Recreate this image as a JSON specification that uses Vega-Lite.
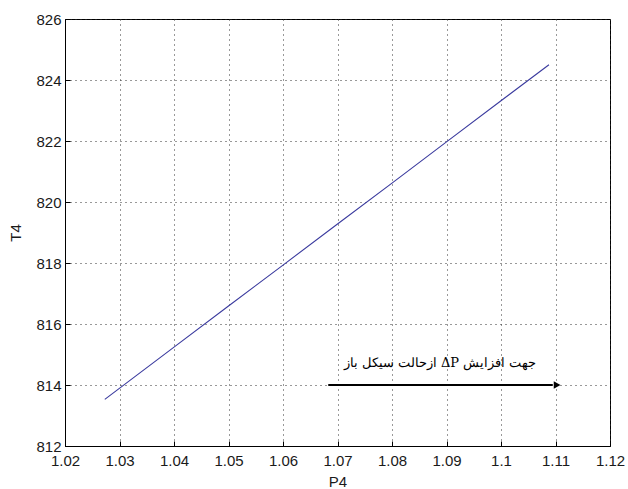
{
  "$schema": "https://vega.github.io/schema/vega-lite/v6.json",
  "width": 545,
  "height": 427,
  "autosize": {"type": "none"},
  "padding": {"left": 65, "top": 19, "right": 18, "bottom": 43},
  "background": "white",
  "config": {
    "view": {"stroke": "#000000", "strokeWidth": 1},
    "axis": {
      "labelFont": "Liberation Sans",
      "labelFontSize": 15,
      "labelColor": "#1a1a1a",
      "titleFont": "Liberation Sans",
      "titleFontSize": 15,
      "titleFontWeight": "normal",
      "titleColor": "#1a1a1a",
      "domainColor": "#000000",
      "tickColor": "#000000",
      "gridColor": "#333333",
      "gridDash": [1, 4],
      "gridOpacity": 1,
      "gridWidth": 1
    }
  },
  "datasets": {
    "curve": [
      {"P4": 1.0273, "T4": 813.53},
      {"P4": 1.04, "T4": 815.24},
      {"P4": 1.05, "T4": 816.59},
      {"P4": 1.06, "T4": 817.93},
      {"P4": 1.07, "T4": 819.28},
      {"P4": 1.08, "T4": 820.62},
      {"P4": 1.09, "T4": 821.97},
      {"P4": 1.1, "T4": 823.32},
      {"P4": 1.1088, "T4": 824.5}
    ],
    "arrow": [
      {"x1": 1.0683, "x2": 1.1095, "y": 814}
    ],
    "head": [
      {"x": 1.1103, "y": 814}
    ],
    "note": [
      {"x": 1.0888, "y": 814.72, "label": "\u202bجهت افزایش ΔP ازحالت سیکل باز\u202c"}
    ]
  },
  "layer": [
    {
      "data": {"name": "curve"},
      "mark": {"type": "line", "color": "#3a3a9e", "strokeWidth": 1.1},
      "encoding": {
        "x": {
          "field": "P4", "type": "quantitative",
          "scale": {"domain": [1.02, 1.12], "nice": false, "zero": false},
          "axis": {
            "title": "P4",
            "values": [1.02, 1.03, 1.04, 1.05, 1.06, 1.07, 1.08, 1.09, 1.1, 1.11, 1.12],
            "format": ".3~r",
            "grid": true,
            "tickSize": -5,
            "labelPadding": 12,
            "titlePadding": 6,
            "labelFlush": false
          }
        },
        "y": {
          "field": "T4", "type": "quantitative",
          "scale": {"domain": [812, 826], "nice": false, "zero": false},
          "axis": {
            "title": "T4",
            "values": [812, 814, 816, 818, 820, 822, 824, 826],
            "format": "d",
            "grid": true,
            "tickSize": -5,
            "labelPadding": 9,
            "titlePadding": 12,
            "labelFlush": false
          }
        }
      }
    },
    {
      "data": {"name": "arrow"},
      "mark": {"type": "rule", "color": "#000000", "strokeWidth": 2},
      "encoding": {
        "x": {"field": "x1", "type": "quantitative"},
        "x2": {"field": "x2"},
        "y": {"field": "y", "type": "quantitative"}
      }
    },
    {
      "data": {"name": "head"},
      "mark": {"type": "point", "shape": "triangle-right", "filled": true, "color": "#000000", "size": 60, "opacity": 1},
      "encoding": {
        "x": {"field": "x", "type": "quantitative"},
        "y": {"field": "y", "type": "quantitative"}
      }
    },
    {
      "data": {"name": "note"},
      "mark": {"type": "text", "font": "DejaVu Serif", "fontSize": 13, "color": "#000000", "align": "center", "baseline": "middle"},
      "encoding": {
        "x": {"field": "x", "type": "quantitative"},
        "y": {"field": "y", "type": "quantitative"},
        "text": {"field": "label"}
      }
    }
  ]
}
